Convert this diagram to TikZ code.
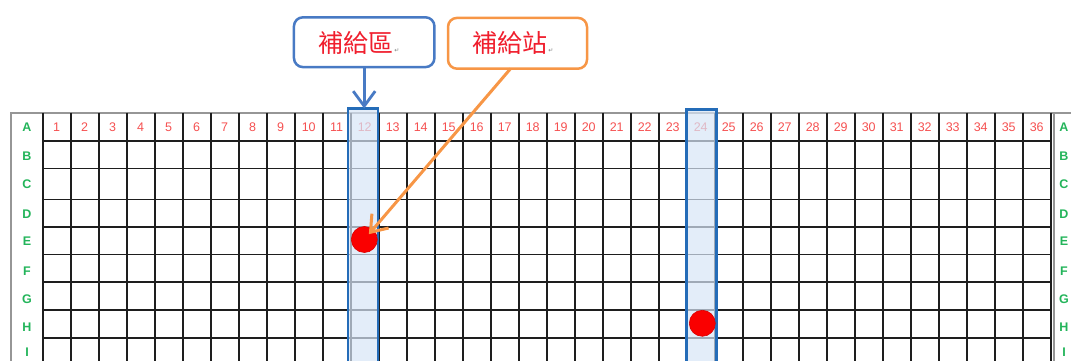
\documentclass[tikz,border=0pt]{standalone}
\usepackage{fontspec}
\setmainfont{Liberation Sans}
\newfontfamily\cjk{Noto Sans CJK TC}
\newfontfamily\dv{DejaVu Sans}
\usetikzlibrary{arrows.meta,calc}
\definecolor{gridc}{RGB}{30,30,30}
\definecolor{framec}{RGB}{150,150,150}
\definecolor{numc}{RGB}{245,80,80}
\definecolor{letc}{RGB}{35,180,90}
\definecolor{colfill}{RGB}{215,229,247}
\definecolor{colborder}{RGB}{36,108,184}
\definecolor{calloutblue}{RGB}{72,122,196}
\definecolor{calloutorange}{RGB}{247,150,70}
\definecolor{dotred}{RGB}{250,0,0}
\definecolor{textred}{RGB}{240,30,45}
\tikzset{
  gridline/.style={gridc, line width=1.6pt},
  frameline/.style={framec, line width=2.4pt},
  numlbl/.style={text=numc, font=\fontsize{12.5}{12.5}\selectfont, inner sep=0pt},
  letlbl/.style={text=letc, font=\bfseries\fontsize{12.5}{12.5}\selectfont, inner sep=0pt},
  colhl/.style={draw=colborder, line width=2.6pt, fill=colfill, fill opacity=0.7, draw opacity=1, inner sep=0pt, outer sep=0pt, anchor=north},
  reddot/.style={circle, fill=dotred, draw=red!85!black, line width=0.6pt, minimum size=26pt, inner sep=0pt},
  callout/.style={rectangle, rounded corners=9pt, line width=2.5pt, fill=white, inner sep=0pt, outer sep=0pt},
  callouttext/.style={text=textred, font=\cjk\fontsize{25}{25}\selectfont},
  bluearrow/.style={calloutblue, line width=2.8pt, -{Straight Barb[length=15pt,width=22pt]}},
  orangearrow/.style={calloutorange, line width=3pt, -{Straight Barb[length=15pt,width=22pt]}},
}
\newcommand{\retmark}{{\dv\fontsize{6}{6}\selectfont\color{gray}\,↵}}
\begin{document}
\begin{tikzpicture}[x=1pt,y=-1pt]
\useasboundingbox (0,0) rectangle (1071,361);
\clip (0,0) rectangle (1071,361);
% outer frame
\draw[frameline] (11,380) -- (11,112.7) -- (1080,112.7);
\draw[frameline] (1054,112.7) -- (1054,380);
% vertical grid lines
\foreach \k in {0,...,36} {
  \draw[gridline] ({42.7+28*\k},112.7) -- ({42.7+28*\k},380);
}
% horizontal grid lines
\foreach \y in {140.7,168.3,199.3,226.7,254.3,281.7,310,337.7} {
  \draw[gridline] (42.7,\y) -- (1050.7,\y);
}
% column numbers
\foreach \k in {1,...,36} {
  \node[numlbl] at ({42.7+28*\k-14},127) {\k};
}
% row letters
\foreach \l/\y in {A/127,B/156.5,C/184,D/214,E/241,F/271,G/299,H/327,I/352} {
  \node[letlbl] at (27,\y) {\l};
  \node[letlbl] at (1064,\y) {\l};
}
% highlighted columns
\node[colhl, minimum width=30pt, minimum height=280pt] (c12) at (363,108.5) {};
\node[colhl, minimum width=30.5pt, minimum height=280pt] (c24) at (701.5,109.3) {};
% red dots
\node[reddot] (d1) at (364.3,239.5) {};
\node[reddot] (d2) at (702.3,323.3) {};
% callouts
\node[callout, draw=calloutblue, minimum width=140.5pt, minimum height=49.8pt] (b1) at (364.2,42.2) {};
\node[callouttext, anchor=center] (t1) at (359,43) {補給區\retmark};
\node[callout, draw=calloutorange, minimum width=139pt, minimum height=50.8pt] (b2) at (517.5,43.3) {};
\node[callouttext, anchor=center] (t2) at (513,43) {補給站\retmark};
% connectors
\draw[bluearrow] (b1.south) -- (b1.south |- c12.north);
\draw[orangearrow, shorten >=7pt] ([xshift=-7pt]b2.south) -- (d1.center);
\end{tikzpicture}
\end{document}
